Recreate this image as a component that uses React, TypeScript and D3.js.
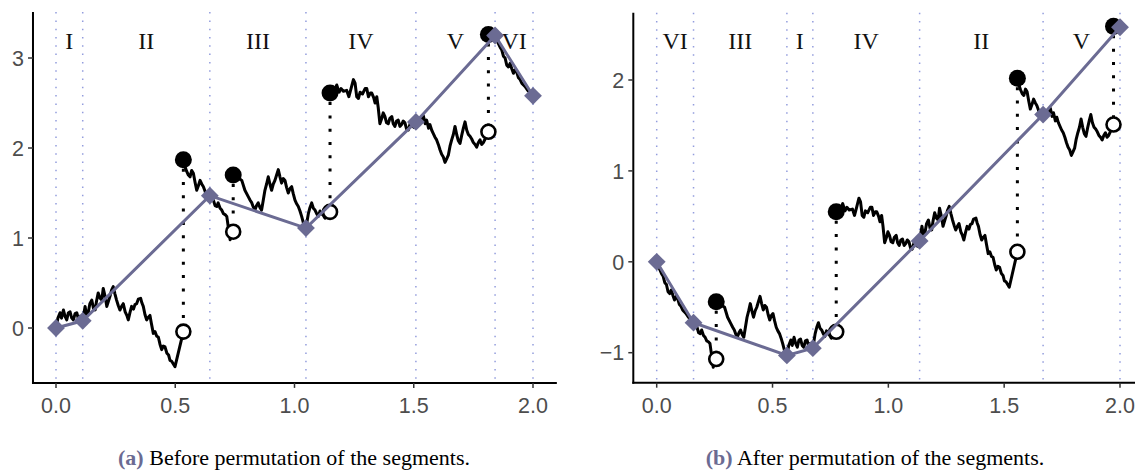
import React from "react";
import * as d3 from "d3";

// ---------- data ----------
const segmentLabels = ["I", "II", "III", "IV", "V", "VI"];
const breakpoints = [0, 0.112, 0.645, 1.048, 1.509, 1.841, 2.0];
const bridgeValues = [0, 0.08, 1.47, 1.11, 2.29, 3.25, 2.58];
const permutedOrder = ["VI", "III", "I", "IV", "II", "V"];
const xTicks = [0, 0.5, 1, 1.5, 2];
const yTicksA = [0, 1, 2, 3];
const yTicksB = [-1, 0, 1, 2];

// continuous pieces of the path (jumps between pieces)
const piece1: [number, number][] = [
  [0, 0], [0.008, 0.11], [0.017, 0.17], [0.023, 0.11], [0.031, 0.2], [0.038, 0.13], [0.045, 0.09],
  [0.052, 0.17], [0.059, 0.18], [0.066, 0.11], [0.073, 0.09], [0.08, 0.16], [0.087, 0.17], [0.094, 0.1],
  [0.1, 0.13], [0.112, 0.08],
  [0.122, 0.24], [0.128, 0.14], [0.135, 0.17], [0.142, 0.27], [0.15, 0.31], [0.157, 0.22], [0.164, 0.2],
  [0.17, 0.3], [0.177, 0.39], [0.185, 0.33], [0.192, 0.31], [0.198, 0.44], [0.206, 0.35], [0.213, 0.24],
  [0.22, 0.3], [0.226, 0.35], [0.233, 0.42], [0.24, 0.46], [0.247, 0.38], [0.254, 0.31], [0.261, 0.25],
  [0.268, 0.2], [0.275, 0.24], [0.282, 0.27], [0.29, 0.18], [0.297, 0.14], [0.303, 0.09], [0.31, 0.17],
  [0.317, 0.24], [0.325, 0.21], [0.331, 0.26], [0.338, 0.27], [0.345, 0.32], [0.355, 0.33], [0.36, 0.28],
  [0.366, 0.24], [0.373, 0.15], [0.38, 0.09], [0.387, 0.12], [0.394, 0.14], [0.4, 0.05], [0.408, -0.06],
  [0.415, -0.04], [0.422, -0.09], [0.429, -0.1], [0.436, -0.18], [0.443, -0.24], [0.45, -0.2],
  [0.457, -0.21], [0.465, -0.28], [0.472, -0.3], [0.478, -0.36], [0.485, -0.37], [0.492, -0.4],
  [0.499, -0.43], [0.534, -0.04],
];
const piece2: [number, number][] = [
  [0.534, 1.87], [0.54, 1.8], [0.548, 1.74], [0.555, 1.7], [0.562, 1.68], [0.569, 1.75], [0.576, 1.72],
  [0.583, 1.62], [0.59, 1.53], [0.597, 1.58], [0.604, 1.64], [0.611, 1.6], [0.618, 1.57], [0.625, 1.52],
  [0.632, 1.46], [0.638, 1.5], [0.645, 1.47],
  [0.652, 1.44], [0.66, 1.42], [0.667, 1.36], [0.674, 1.35], [0.68, 1.39], [0.688, 1.33], [0.695, 1.31],
  [0.702, 1.27], [0.709, 1.26], [0.716, 1.24], [0.722, 1.13], [0.73, 0.98], [0.736, 1.02], [0.743, 1.07],
];
const piece3: [number, number][] = [
  [0.743, 1.7], [0.752, 1.72], [0.76, 1.7], [0.768, 1.66], [0.779, 1.64], [0.792, 1.53], [0.806, 1.46],
  [0.814, 1.42], [0.821, 1.39], [0.828, 1.34], [0.834, 1.31], [0.841, 1.36], [0.848, 1.39], [0.855, 1.34],
  [0.862, 1.31], [0.869, 1.42], [0.876, 1.53], [0.883, 1.6], [0.89, 1.68], [0.897, 1.6], [0.904, 1.53],
  [0.911, 1.6], [0.918, 1.64], [0.925, 1.7], [0.932, 1.76], [0.939, 1.68], [0.946, 1.61], [0.953, 1.66],
  [0.96, 1.64], [0.967, 1.56], [0.974, 1.5], [0.981, 1.55], [0.988, 1.57], [0.995, 1.49], [1.002, 1.42],
  [1.009, 1.38], [1.016, 1.35], [1.023, 1.3], [1.03, 1.24], [1.04, 1.14], [1.048, 1.11],
  [1.058, 1.27], [1.065, 1.34], [1.072, 1.39], [1.079, 1.33], [1.086, 1.31], [1.093, 1.27], [1.1, 1.24],
  [1.107, 1.3], [1.114, 1.27], [1.121, 1.25], [1.128, 1.22], [1.136, 1.25], [1.149, 1.29],
];
const piece4: [number, number][] = [
  [1.149, 2.61], [1.158, 2.66], [1.166, 2.63], [1.177, 2.7], [1.187, 2.62], [1.195, 2.66], [1.205, 2.63],
  [1.219, 2.64], [1.228, 2.57], [1.237, 2.66], [1.247, 2.76], [1.254, 2.72], [1.261, 2.57], [1.268, 2.55],
  [1.275, 2.62], [1.285, 2.6], [1.296, 2.66], [1.303, 2.66], [1.31, 2.57], [1.318, 2.61], [1.324, 2.61],
  [1.332, 2.56], [1.338, 2.5], [1.345, 2.57], [1.351, 2.45], [1.358, 2.27], [1.366, 2.33], [1.372, 2.39],
  [1.379, 2.35], [1.386, 2.28], [1.393, 2.27], [1.4, 2.33], [1.408, 2.35], [1.414, 2.27], [1.421, 2.24],
  [1.428, 2.3], [1.435, 2.31], [1.442, 2.24], [1.449, 2.26], [1.456, 2.3], [1.463, 2.28], [1.47, 2.21],
  [1.477, 2.2], [1.485, 2.27], [1.493, 2.25], [1.5, 2.23], [1.509, 2.29],
  [1.52, 2.33], [1.53, 2.3], [1.54, 2.36], [1.548, 2.27], [1.554, 2.31], [1.562, 2.22], [1.568, 2.26],
  [1.575, 2.2], [1.582, 2.16], [1.589, 2.12], [1.596, 2.09], [1.603, 2.04], [1.61, 1.98], [1.617, 1.93],
  [1.624, 1.9], [1.631, 1.84], [1.638, 1.88], [1.645, 1.92], [1.652, 2.02], [1.659, 2.09], [1.666, 2.15],
  [1.673, 2.24], [1.68, 2.15], [1.687, 2.08], [1.694, 2.05], [1.701, 2.14], [1.708, 2.22], [1.715, 2.29],
  [1.722, 2.2], [1.729, 2.15], [1.736, 2.13], [1.743, 2.1], [1.75, 2.06], [1.757, 2.04], [1.764, 2.01],
  [1.771, 2.06], [1.778, 2.09], [1.785, 2.04], [1.792, 2.06], [1.799, 2.1], [1.806, 2.13], [1.813, 2.18],
];
const piece5: [number, number][] = [
  [1.813, 3.26], [1.82, 3.27], [1.83, 3.24], [1.841, 3.25],
  [1.848, 3.2], [1.855, 3.16], [1.862, 3.12], [1.869, 3.09], [1.876, 3.02], [1.883, 3.0], [1.89, 2.92],
  [1.897, 2.9], [1.904, 2.94], [1.911, 2.88], [1.918, 2.83], [1.925, 2.87], [1.932, 2.84], [1.939, 2.78],
  [1.946, 2.76], [1.953, 2.72], [1.96, 2.7], [1.968, 2.68], [1.978, 2.64], [1.99, 2.61], [2.0, 2.58],
];
const piecesA = [piece1, piece2, piece3, piece4, piece5];

// ---------- helpers ----------
type Pt = [number, number];
interface PanelData {
  pieces: Pt[][];
  jumps: { t: number; before: number; after: number }[];
  bps: number[];
  bridge: number[];
  labels: string[];
}

function jumpsOf(pieces: Pt[][]) {
  const out: { t: number; before: number; after: number }[] = [];
  for (let i = 0; i < pieces.length - 1; i++) {
    const e = pieces[i][pieces[i].length - 1];
    const s = pieces[i + 1][0];
    out.push({ t: e[0], before: e[1], after: s[1] });
  }
  return out;
}

const panelA: PanelData = {
  pieces: piecesA,
  jumps: jumpsOf(piecesA),
  bps: breakpoints,
  bridge: bridgeValues,
  labels: segmentLabels,
};

function permute(src: PanelData, order: string[]): PanelData {
  const pieces: Pt[][] = [];
  const jumps: { t: number; before: number; after: number }[] = [];
  const bps = [0];
  const bridge = [src.bridge[0]];
  let t0 = 0;
  let y0 = src.bridge[0];
  for (const lab of order) {
    const k = src.labels.indexOf(lab);
    const a = src.bps[k];
    const b = src.bps[k + 1];
    const dt = t0 - a;
    const dy = y0 - src.bridge[k];
    src.pieces.forEach((p) => {
      const sub = p.filter(([t]) => t >= a - 1e-9 && t <= b + 1e-9);
      if (sub.length > 1) pieces.push(sub.map(([t, y]) => [t + dt, y + dy] as Pt));
    });
    src.jumps.forEach((j) => {
      if (j.t > a && j.t < b) jumps.push({ t: j.t + dt, before: j.before + dy, after: j.after + dy });
    });
    t0 += b - a;
    y0 += src.bridge[k + 1] - src.bridge[k];
    bps.push(t0);
    bridge.push(y0);
  }
  return { pieces, jumps, bps, bridge, labels: order };
}

const panelB = permute(panelA, permutedOrder);

// ---------- styles ----------
const BRIDGE = "#6b6b93";
const GUIDE = "#939ddd";
const TICKTXT = "#4d4d4d";

interface PanelProps {
  data: PanelData;
  xRange: [number, number];
  yDomain: [number, number];
  yRange: [number, number];
  xExt: [number, number];
  yExt: [number, number];
  yTicks: number[];
}

function Panel({ data, xRange, yDomain, yRange, xExt, yExt, yTicks }: PanelProps) {
  const x = d3.scaleLinear().domain([0, 2]).range(xRange);
  const y = d3.scaleLinear().domain(yDomain).range(yRange);
  const line = d3.line<Pt>().x((d) => x(d[0])).y((d) => y(d[1]));
  const top = y(yExt[1]);
  const bottom = y(yExt[0]);
  const left = x(xExt[0]);
  const right = x(xExt[1]);
  const bridgePts: Pt[] = data.bps.map((t, i) => [t, data.bridge[i]]);
  const fmtY = (v: number) => (v < 0 ? "\u2212" + Math.abs(v) : String(v));
  return (
    <g>
      {data.bps.map((t, i) => (
        <line key={"g" + i} x1={x(t)} x2={x(t)} y1={top} y2={bottom}
          stroke={GUIDE} strokeWidth={1.5} strokeDasharray="1.5 6.8" />
      ))}
      {data.labels.map((lab, i) => (
        <text key={"l" + i} x={x((data.bps[i] + data.bps[i + 1]) / 2)} y={49}
          textAnchor="middle" fontFamily="'Liberation Serif', serif" fontSize={24} fill="#111">
          {lab}
        </text>
      ))}
      {data.pieces.map((p, i) => (
        <path key={"p" + i} d={line(p) || ""} fill="none" stroke="#000" strokeWidth={3}
          strokeLinejoin="round" strokeLinecap="round" />
      ))}
      {data.jumps.map((j, i) => (
        <line key={"j" + i} x1={x(j.t)} x2={x(j.t)} y1={y(j.after) + 9} y2={y(j.before) - 7}
          stroke="#000" strokeWidth={3} strokeDasharray="3 10.3" />
      ))}
      {data.jumps.map((j, i) => (
        <g key={"c" + i}>
          <circle cx={x(j.t)} cy={y(j.after)} r={8.5} fill="#000" />
          <circle cx={x(j.t)} cy={y(j.before)} r={7} fill="#fff" stroke="#000" strokeWidth={2.6} />
        </g>
      ))}
      <path d={line(bridgePts) || ""} fill="none" stroke={BRIDGE} strokeWidth={3} />
      {bridgePts.map((d, i) => (
        <rect key={"d" + i} x={-6.3} y={-6.3} width={12.6} height={12.6} fill={BRIDGE}
          transform={`translate(${x(d[0])},${y(d[1])}) rotate(45)`} />
      ))}
      {/* axes */}
      <line x1={left} x2={left} y1={top} y2={bottom + 1} stroke="#000" strokeWidth={2} />
      <line x1={left - 1} x2={right} y1={bottom} y2={bottom} stroke="#000" strokeWidth={2} />
      {yTicks.map((v) => (
        <g key={"yt" + v}>
          <line x1={left - 5} x2={left} y1={y(v)} y2={y(v)} stroke="#333" strokeWidth={1.5} />
          <text x={left - 9} y={y(v)} dy="0.36em" textAnchor="end" fontSize={21.5}
            fontFamily="'Liberation Sans', Arial, sans-serif" fill={TICKTXT}>
            {fmtY(v)}
          </text>
        </g>
      ))}
      {xTicks.map((v) => (
        <g key={"xt" + v}>
          <line x1={x(v)} x2={x(v)} y1={bottom} y2={bottom + 5} stroke="#333" strokeWidth={1.5} />
          <text x={x(v)} y={413} textAnchor="middle" fontSize={21.5}
            fontFamily="'Liberation Sans', Arial, sans-serif" fill={TICKTXT}>
            {v.toFixed(1)}
          </text>
        </g>
      ))}
    </g>
  );
}

export default function App() {
  return (
    <svg width={1135} height={474} viewBox="0 0 1135 474"
      style={{ position: "absolute", left: 0, top: 0, background: "#fff" }}>
      <rect width={1135} height={474} fill="#fff" />
      <Panel data={panelA} xRange={[56, 533]} yDomain={[0, 3]} yRange={[328, 58]}
        xExt={[-0.0965, 2.1]} yExt={[-0.61, 3.51]} yTicks={yTicksA} />
      <Panel data={panelB} xRange={[656.7, 1120]} yDomain={[-1, 2]} yRange={[352.7, 80]}
        xExt={[-0.101, 2.2]} yExt={[-1.33, 2.74]} yTicks={yTicksB} />
      <text x={294} y={465} textAnchor="middle" fontFamily="'Liberation Serif', serif" fontSize={22}>
        <tspan fill={BRIDGE} fontWeight="bold">(a)</tspan>
        <tspan fill="#000"> Before permutation of the segments.</tspan>
      </text>
      <text x={875} y={465} textAnchor="middle" fontFamily="'Liberation Serif', serif" fontSize={22}>
        <tspan fill={BRIDGE} fontWeight="bold">(b)</tspan>
        <tspan fill="#000"> After permutation of the segments.</tspan>
      </text>
    </svg>
  );
}
